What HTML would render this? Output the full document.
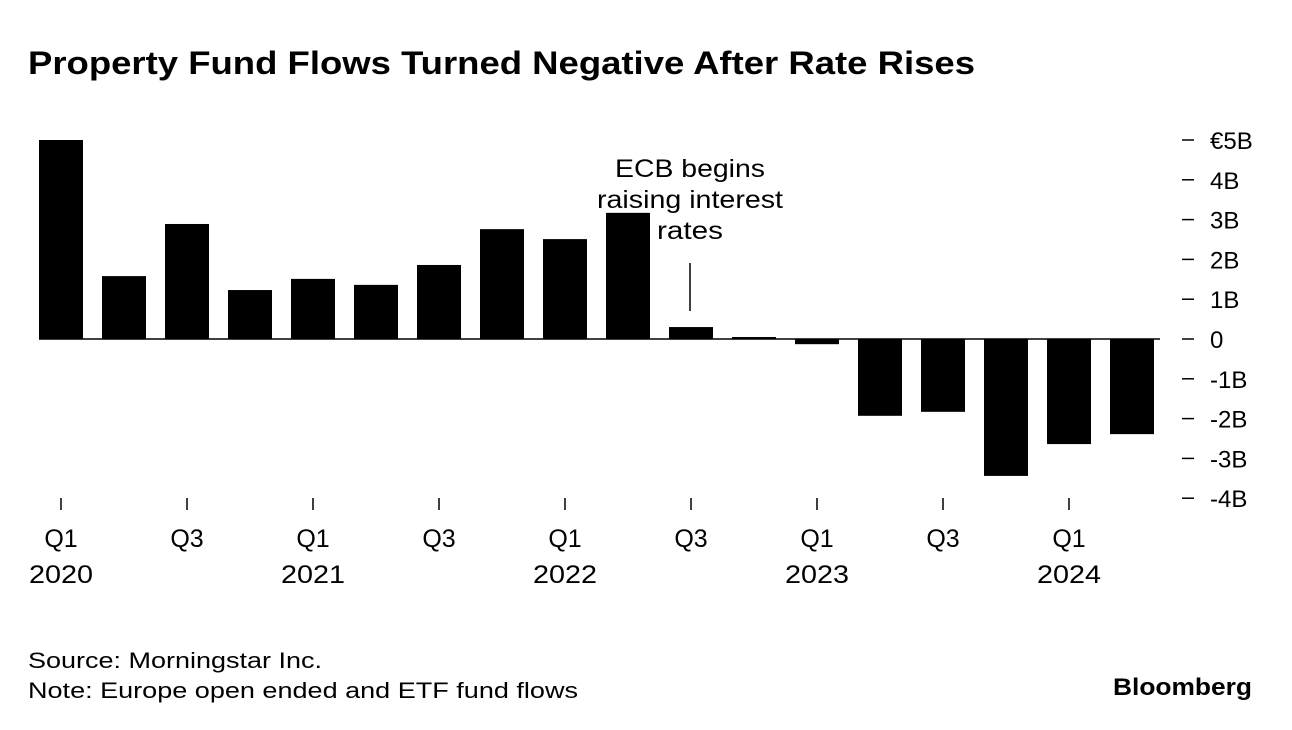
<!DOCTYPE html>
<html><head><meta charset="utf-8"><style>
body{margin:0;background:#fff;font-family:"Liberation Sans",sans-serif;}
#wrap{position:relative;width:1292px;height:730px;overflow:hidden;}
</style></head><body>
<div id="wrap">
<svg id="chart" width="1292" height="730">
<text x="28" y="74" font-size="32" font-weight="bold" fill="#000" textLength="947" lengthAdjust="spacingAndGlyphs">Property Fund Flows Turned Negative After Rate Rises</text>
<g id="bars"></g>
<g id="yaxis"></g>
<g id="xaxis"></g>
<g>
<text x="690" y="177" font-size="25" text-anchor="middle" textLength="150" lengthAdjust="spacingAndGlyphs">ECB begins</text>
<text x="690" y="208" font-size="25" text-anchor="middle" textLength="186" lengthAdjust="spacingAndGlyphs">raising interest</text>
<text x="690" y="239" font-size="25" text-anchor="middle" textLength="66" lengthAdjust="spacingAndGlyphs">rates</text>
<line x1="690" y1="263" x2="690" y2="311" stroke="#000" stroke-width="1.5"/>
</g>
<text x="28" y="668" font-size="22" textLength="294" lengthAdjust="spacingAndGlyphs">Source: Morningstar Inc.</text>
<text x="28" y="698" font-size="22" textLength="550" lengthAdjust="spacingAndGlyphs">Note: Europe open ended and ETF fund flows</text>
<text x="1252" y="695" font-size="24" font-weight="bold" text-anchor="end" textLength="139" lengthAdjust="spacingAndGlyphs">Bloomberg</text>
</svg>
</div>
<script>
const categories=["2020Q1","2020Q2","2020Q3","2020Q4","2021Q1","2021Q2","2021Q3","2021Q4","2022Q1","2022Q2","2022Q3","2022Q4","2023Q1","2023Q2","2023Q3","2023Q4","2024Q1","2024Q2"];
const values=[5.0,1.58,2.89,1.23,1.51,1.36,1.86,2.76,2.51,3.17,0.30,0.05,-0.13,-1.93,-1.83,-3.44,-2.64,-2.39];
const yTicks=[5,4,3,2,1,0,-1,-2,-3,-4];
const yTickLabels=["€5B","4B","3B","2B","1B","0","-1B","-2B","-3B","-4B"];
const xTickQuarters=["Q1","Q3","Q1","Q3","Q1","Q3","Q1","Q3","Q1"];
const xTickYears=["2020","","2021","","2022","","2023","","2024"];
const NS="http://www.w3.org/2000/svg";
function y(v){return 339-v*39.8;}
function x(i){return 61+i*63;}
const bw=44;
const bars=document.getElementById('bars');
values.forEach((v,i)=>{
 const r=document.createElementNS(NS,'rect');
 r.setAttribute('x',x(i)-bw/2);r.setAttribute('width',bw);
 r.setAttribute('y',Math.min(y(v),y(0)));r.setAttribute('height',Math.max(Math.abs(y(v)-y(0)),1));
 r.setAttribute('fill','#000');
 
 
 bars.appendChild(r);
});
const zl=document.createElementNS(NS,'line');
zl.setAttribute('x1',39);zl.setAttribute('x2',1160);zl.setAttribute('y1',y(0));zl.setAttribute('y2',y(0));
zl.setAttribute('stroke','#000');zl.setAttribute('stroke-width','1.5');


bars.appendChild(zl);
const ya=document.getElementById('yaxis');
yTicks.forEach((t,i)=>{
 const l=document.createElementNS(NS,'line');
 l.setAttribute('x1',1182);l.setAttribute('x2',1194);l.setAttribute('y1',y(t));l.setAttribute('y2',y(t));
 l.setAttribute('stroke','#000');l.setAttribute('stroke-width','1.5');
 
 
 ya.appendChild(l);
 const tx=document.createElementNS(NS,'text');
 tx.setAttribute('x',1210);tx.setAttribute('y',y(t)+9);tx.setAttribute('font-size','24');
 tx.textContent=yTickLabels[i];
 
 
 ya.appendChild(tx);
});
const xa=document.getElementById('xaxis');
xTickQuarters.forEach((q,k)=>{
 const cx=x(k*2);
 const l=document.createElementNS(NS,'line');
 l.setAttribute('x1',cx);l.setAttribute('x2',cx);l.setAttribute('y1',498);l.setAttribute('y2',510);
 l.setAttribute('stroke','#000');l.setAttribute('stroke-width','1.5');
 
 
 xa.appendChild(l);
 const t1=document.createElementNS(NS,'text');
 t1.setAttribute('x',cx);t1.setAttribute('y',547);t1.setAttribute('font-size','25');t1.setAttribute('text-anchor','middle');
 t1.textContent=q;
 
 
 xa.appendChild(t1);
 if(xTickYears[k]){
  const t2=document.createElementNS(NS,'text');
  t2.setAttribute('x',cx);t2.setAttribute('y',583);t2.setAttribute('font-size','25');t2.setAttribute('text-anchor','middle');
  t2.setAttribute('textLength','64');t2.setAttribute('lengthAdjust','spacingAndGlyphs');
  t2.textContent=xTickYears[k];
  
  
  xa.appendChild(t2);
 }
});
</script>
</body></html>
